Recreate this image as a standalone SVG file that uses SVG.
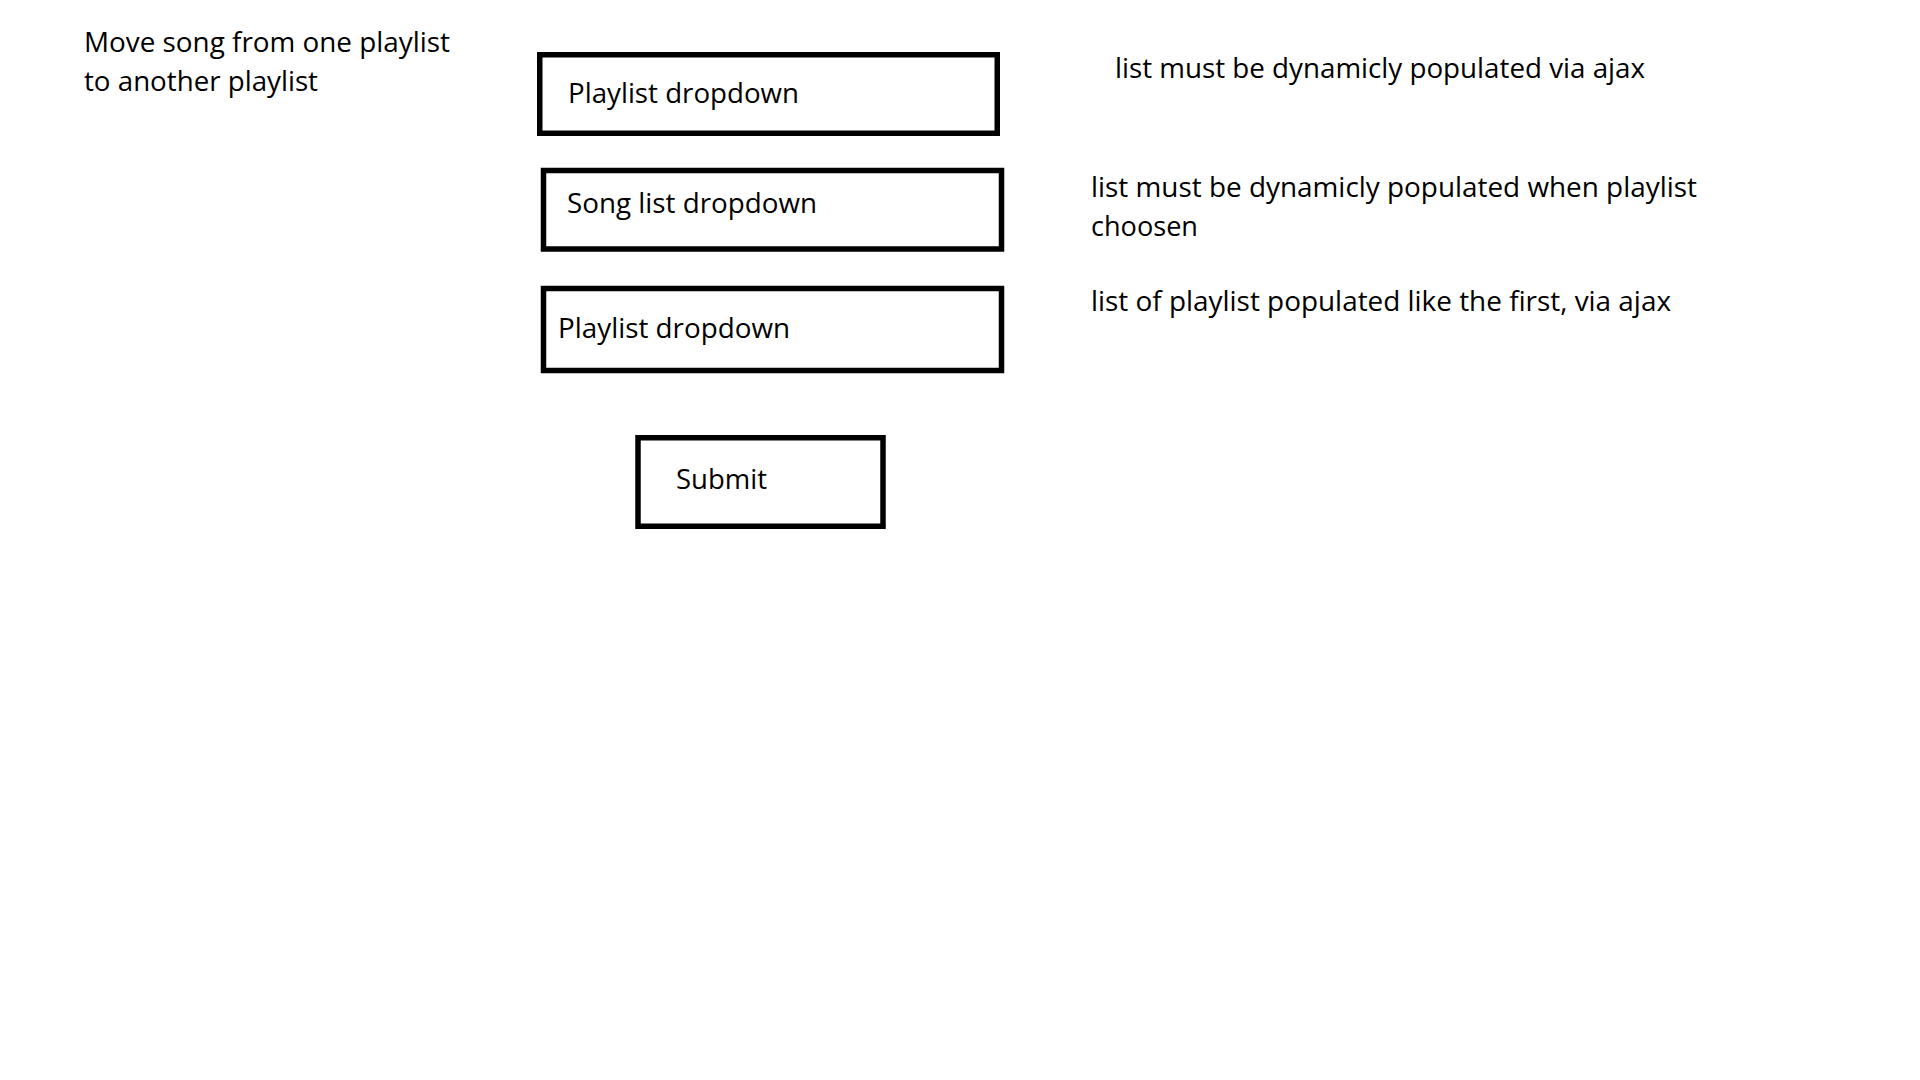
<svg xmlns="http://www.w3.org/2000/svg" width="1920" height="1080" viewBox="0 0 1920 1080">
  <style>
    .bg { fill: #ffffff; }
    .box { fill: #ffffff; stroke: #000000; stroke-width: 5.5; }
    .t { font-family: "Open Sans", "Noto Sans", "Liberation Sans", sans-serif; font-size: 28px; fill: #000000; }
  </style>
  <rect class="bg" x="0" y="0" width="1920" height="1080"/>

  <g id="title">
    <text class="t" x="84" y="52" textLength="366" lengthAdjust="spacingAndGlyphs">Move song from one playlist</text>
    <text class="t" x="84" y="91" textLength="234" lengthAdjust="spacingAndGlyphs">to another playlist</text>
  </g>

  <g id="playlist-dropdown-1">
    <rect class="box" x="539.75" y="54.75" width="457.5" height="78.5"/>
    <text class="t" x="568" y="103" textLength="231" lengthAdjust="spacingAndGlyphs">Playlist dropdown</text>
  </g>

  <g id="song-list-dropdown">
    <rect class="box" x="543.5" y="170.5" width="458" height="78.5"/>
    <text class="t" x="567" y="213" textLength="250" lengthAdjust="spacingAndGlyphs">Song list dropdown</text>
  </g>

  <g id="playlist-dropdown-2">
    <rect class="box" x="543.5" y="288.5" width="458" height="82"/>
    <text class="t" x="558" y="338" textLength="232" lengthAdjust="spacingAndGlyphs">Playlist dropdown</text>
  </g>

  <g id="submit">
    <rect class="box" x="638" y="437.75" width="245" height="88.5"/>
    <text class="t" x="676" y="489" textLength="91" lengthAdjust="spacingAndGlyphs">Submit</text>
  </g>

  <g id="note-1">
    <text class="t" x="1115" y="78" textLength="530" lengthAdjust="spacingAndGlyphs">list must be dynamicly populated via ajax</text>
  </g>

  <g id="note-2">
    <text class="t" x="1091" y="197" textLength="606" lengthAdjust="spacingAndGlyphs">list must be dynamicly populated when playlist</text>
    <text class="t" x="1091" y="236" textLength="107" lengthAdjust="spacingAndGlyphs">choosen</text>
  </g>

  <g id="note-3">
    <text class="t" x="1091" y="311" textLength="580" lengthAdjust="spacingAndGlyphs">list of playlist populated like the first, via ajax</text>
  </g>

  <g id="connectors"/>
</svg>
